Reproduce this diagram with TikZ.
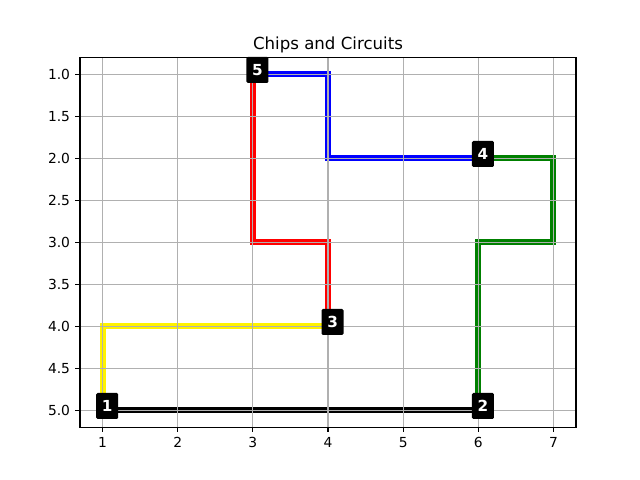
\documentclass[tikz,border=0pt]{standalone}
\usepackage{fontspec}
\setmainfont{DejaVu Sans}
\usepackage{tikz}
\usetikzlibrary{positioning}
\definecolor{gridgray}{HTML}{B0B0B0}
\definecolor{wiregreen}{RGB}{0, 128, 0}

\tikzset{
    wire/.style={line width=4.3pt, line cap=rect, line join=miter},
    gridline/.style={gridgray, line width=0.8pt},
    spine/.style={black, line width=0.8pt},
    ticklabel/.style={font=\fontsize{10}{12}\selectfont, inner sep=0pt},
    chip/.style={fill=black, text=white, font=\fontsize{11}{11}\selectfont\bfseries,
        minimum width=0.22in, minimum height=0.26in, inner sep=0pt, rounded corners=1pt}
}

\begin{document}
\begin{tikzpicture}
    \useasboundingbox (0,0) rectangle (6.4in, 4.8in);

    % Title
    \node[anchor=base, font=\fontsize{12}{14}\selectfont] (title) at (3.28in, 4.307in) {Chips and Circuits};

    \begin{scope}[shift={(0.2739in, 4.896in)}, x=0.75152in, y=-0.84in]
        % Gates
        \foreach \n/\gx/\gy in {1/1/5, 2/6/5, 3/4/4, 4/6/2, 5/3/1}
            \coordinate (g\n) at (\gx, \gy);

        % Wires
        \draw[wire, yellow] (g1) |- (g3);
        \draw[wire, black] (g1) -- (g2);
        \draw[wire, wiregreen] (g2) -- (6, 3) -- (7, 3) -- (7, 2) -- (g4);
        \draw[wire, blue] (g4) -- (4, 2) -- (4, 1) -- (g5);
        \draw[wire, red] (g5) -- (3, 3) -- (4, 3) -- (g3);

        % Grid
        \foreach \x in {1,...,7}
            \draw[gridline] (\x, 0.8) -- (\x, 5.2);
        \foreach \y in {1.0, 1.5, 2.0, 2.5, 3.0, 3.5, 4.0, 4.5, 5.0}
            \draw[gridline] (0.7, \y) -- (7.3, \y);

        % Axes
        \draw[spine] (0.7, 0.8) rectangle (7.3, 5.2);
        \foreach \x in {1,...,7} {
            \draw[spine] (\x, 5.2) -- ++(0, -3.5pt);
            \node[ticklabel, anchor=north] (xt\x) at ([yshift=-7pt]\x, 5.2) {\x};
        }
        \foreach \y in {1.0, 1.5, 2.0, 2.5, 3.0, 3.5, 4.0, 4.5, 5.0} {
            \draw[spine] (0.7, \y) -- ++(-3.5pt, 0);
            \node[ticklabel, anchor=east] (yt\y) at ([xshift=-7pt]0.7, \y) {\y};
        }

        % Chips
        \foreach \n in {1,...,5}
            \node[chip] (c\n) at ([xshift=0.046in, yshift=0.044in]g\n) {\n};
    \end{scope}
\end{tikzpicture}
\end{document}
